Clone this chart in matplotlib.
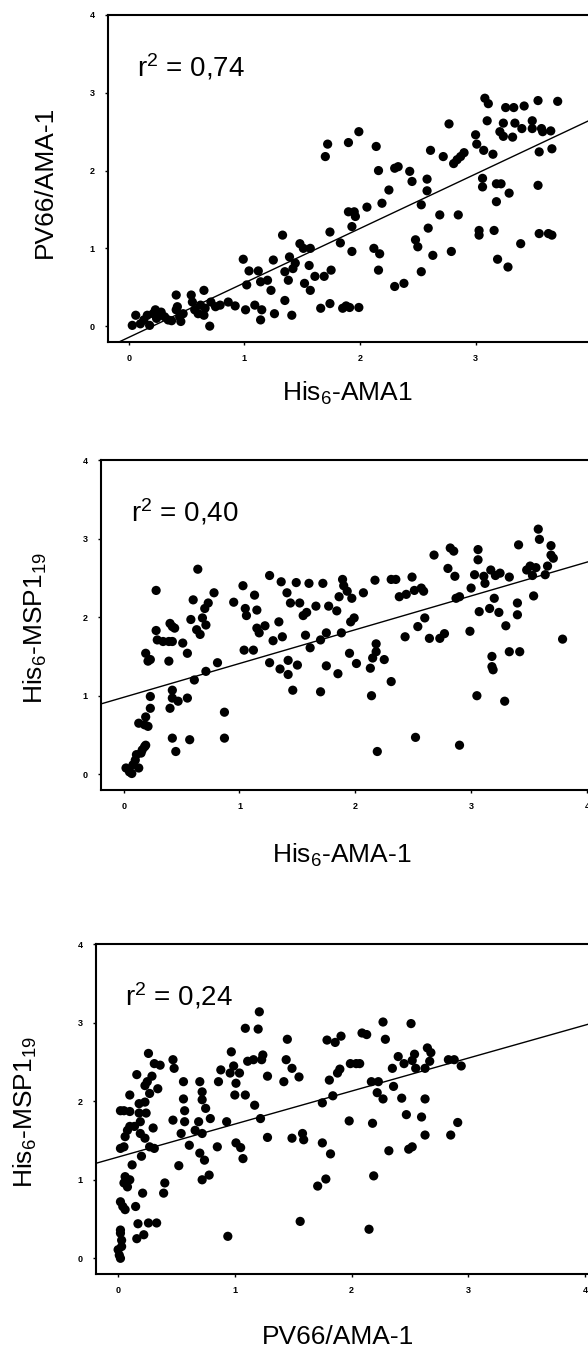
import numpy as np
import matplotlib
matplotlib.use("Agg")
import matplotlib.pyplot as plt

plt.rcParams['font.family'] = ['Liberation Sans', 'DejaVu Sans']
plt.rcParams['mathtext.fontset'] = 'custom'
plt.rcParams['mathtext.rm'] = 'Liberation Sans'
plt.rcParams['mathtext.it'] = 'Liberation Sans:italic'
plt.rcParams['mathtext.bf'] = 'Liberation Sans:bold'

# ---------------- data ----------------
# Panel 1: His6-AMA1 (x) vs PV66/AMA-1 (y)
p1_x = [0.03, 0.06, 0.10, 0.13, 0.16, 0.18, 0.21, 0.23, 0.24, 0.26, 0.28, 0.31, 0.34, 0.37,
        0.41, 0.41, 0.42, 0.44, 0.45, 0.47, 0.54, 0.55, 0.57, 0.60, 0.62, 0.65, 0.65, 0.66,
        0.70, 0.71, 0.75, 0.79, 0.86, 0.92, 1.01,
        0.99, 1.02, 1.04, 1.09, 1.12, 1.14, 1.14, 1.15, 1.20, 1.23, 1.25, 1.26, 1.33, 1.35,
        1.35, 1.38, 1.39, 1.41, 1.42, 1.44, 1.48, 1.51, 1.52, 1.56, 1.57, 1.57, 1.61, 1.66,
        1.69, 1.70, 1.72, 1.74, 1.74, 1.75, 1.83, 1.85, 1.88, 1.90, 1.90, 1.91, 1.93, 1.93,
        1.95, 1.96, 1.99, 1.99,
        2.06, 2.12, 2.14, 2.16, 2.16, 2.17, 2.19, 2.25, 2.30, 2.30, 2.33, 2.38, 2.43, 2.45,
        2.48, 2.50, 2.53, 2.53, 2.58, 2.58, 2.59, 2.61, 2.63, 2.69, 2.72, 2.77, 2.79, 2.81,
        2.84, 2.87, 2.90, 2.85, 3.00, 3.01, 3.03, 3.03, 3.06, 3.06, 3.07, 3.08, 3.10, 3.11,
        3.15, 3.16, 3.18, 3.18, 3.19, 3.21, 3.22, 3.24, 3.24, 3.26, 3.28, 3.29, 3.32, 3.33,
        3.34, 3.39, 3.40, 3.42, 3.49, 3.49, 3.54, 3.54, 3.55, 3.55, 3.57, 3.58, 3.63, 3.65,
        3.66, 3.66, 3.71]
p1_y = [0.01, 0.14, 0.03, 0.08, 0.14, 0.01, 0.16, 0.21, 0.10, 0.14, 0.18, 0.12, 0.08, 0.07,
        0.40, 0.21, 0.25, 0.12, 0.06, 0.16, 0.40, 0.31, 0.21, 0.16, 0.27, 0.46, 0.14, 0.23,
        0.00, 0.31, 0.25, 0.27, 0.31, 0.26, 0.21,
        0.86, 0.53, 0.71, 0.27, 0.71, 0.57, 0.08, 0.21, 0.59, 0.46, 0.85, 0.16, 1.17, 0.70,
        0.33, 0.59, 0.89, 0.14, 0.74, 0.81, 1.06, 1.00, 0.55, 0.78, 1.00, 0.46, 0.64, 0.23,
        0.64, 2.18, 2.34, 1.21, 0.29, 0.72, 1.07, 0.23, 0.26, 2.36, 1.47, 0.24, 1.28, 0.96,
        1.47, 1.41, 2.50, 0.24,
        1.53, 1.00, 2.31, 2.00, 0.72, 0.93, 1.58, 1.75, 2.03, 0.51, 2.05, 0.55, 1.99, 1.86,
        1.11, 1.02, 1.56, 0.70, 1.89, 1.74, 1.26, 2.26, 0.91, 1.43, 2.18, 2.60, 0.96, 2.09,
        2.14, 2.18, 2.23, 1.43, 2.46, 2.34, 1.23, 1.17, 1.90, 1.79, 2.26, 2.93, 2.64, 2.86,
        2.21, 1.23, 1.83, 1.60, 0.86, 2.50, 1.83, 2.61, 2.44, 2.81, 0.76, 1.71, 2.43, 2.81,
        2.61, 1.06, 2.54, 2.83, 2.64, 2.54, 2.90, 1.81, 2.24, 1.19, 2.54, 2.50, 1.19, 2.51,
        2.28, 1.17, 2.89]

# Panel 2: His6-AMA-1 (x) vs His6-MSP1_19 (y)
p2_x = [0.02, 0.05, 0.07, 0.08, 0.10, 0.11, 0.13, 0.15, 0.16, 0.18, 0.19, 0.13, 0.18, 0.19,
        0.21, 0.23, 0.23, 0.19, 0.21, 0.23, 0.28, 0.28, 0.29, 0.34, 0.39, 0.39, 0.40, 0.42,
        0.42, 0.44, 0.42, 0.40, 0.42, 0.42, 0.45, 0.47, 0.51, 0.55, 0.55, 0.57, 0.58, 0.60,
        0.61, 0.63, 0.64, 0.66, 0.68, 0.70, 0.71, 0.71, 0.73, 0.78, 0.81, 0.87, 0.87, 0.95,
        1.03, 1.05, 1.04, 1.06, 1.12, 1.13, 1.15, 1.15, 1.17, 1.22, 1.26, 1.26, 1.29, 1.34,
        1.35, 1.36, 1.37, 1.41, 1.42, 1.42, 1.44, 1.46, 1.49, 1.50, 1.52, 1.55, 1.57, 1.58,
        1.60, 1.61, 1.66, 1.70, 1.70, 1.72, 1.75, 1.75, 1.77, 1.84, 1.85, 1.86, 1.88, 1.89,
        1.90, 1.93, 1.95, 1.96, 1.97, 1.99, 2.01, 2.07, 2.13, 2.14, 2.15, 2.17, 2.18, 2.18,
        2.19, 2.25, 2.31, 2.31, 2.35, 2.38, 2.43, 2.44, 2.49, 2.51, 2.52, 2.54, 2.57, 2.59,
        2.60, 2.64, 2.68, 2.73, 2.77, 2.80, 2.82, 2.85, 2.86, 2.87, 2.90, 2.90, 2.99, 3.00,
        3.03, 3.05, 3.06, 3.06, 3.07, 3.11, 3.12, 3.16, 3.17, 3.18, 3.18, 3.19, 3.20, 3.21,
        3.24, 3.25, 3.29, 3.30, 3.33, 3.33, 3.40, 3.40, 3.41, 3.42, 3.48, 3.51, 3.53, 3.54,
        3.56, 3.58, 3.59, 3.64, 3.66, 3.69, 3.69, 3.71, 3.79]
p2_y = [0.08, 0.03, 0.01, 0.12, 0.18, 0.25, 0.08, 0.27, 0.31, 0.35, 0.37, 0.65, 0.63, 0.73,
        0.61, 0.84, 0.99, 1.54, 1.44, 1.46, 2.34, 1.83, 1.71, 1.69, 1.69, 1.44, 1.92, 1.88,
        1.69, 1.86, 1.07, 0.84, 0.97, 0.46, 0.29, 0.93, 1.67, 1.54, 0.97, 0.44, 1.97, 2.22,
        1.20, 1.84, 2.61, 1.78, 1.99, 2.11, 1.90, 1.31, 2.18, 2.31, 1.42, 0.79, 0.46, 2.19,
        2.40, 2.11, 1.58, 2.02, 1.58, 2.28, 2.09, 1.86, 1.80, 1.89, 2.53, 1.42, 1.70, 1.94,
        1.34, 2.45, 1.75, 2.31, 1.45, 1.27, 2.18, 1.07, 2.44, 1.39, 2.18, 2.02, 1.77, 2.06,
        2.43, 1.61, 2.14, 1.05, 1.71, 2.43, 1.80, 1.38, 2.14, 2.08, 1.28, 2.26, 1.80, 2.48,
        2.40, 2.33, 1.54, 1.94, 2.24, 1.99, 1.41, 2.31, 1.35, 1.00, 1.48, 2.47, 1.66, 1.56,
        0.29, 1.46, 1.18, 2.48, 2.48, 2.26, 1.75, 2.29, 2.51, 2.34, 0.47, 1.88, 2.37, 2.33,
        1.99, 1.73, 2.79, 1.73, 1.79, 2.62, 2.88, 2.84, 2.52, 2.24, 2.26, 0.37, 1.82, 2.37,
        2.54, 1.00, 2.86, 2.73, 2.07, 2.52, 2.43, 2.11, 2.60, 1.50, 1.37, 1.33, 2.24, 2.53,
        2.06, 2.56, 0.93, 1.89, 1.56, 2.51, 2.18, 2.03, 2.92, 1.56, 2.60, 2.65, 2.53, 2.27,
        2.63, 3.12, 2.99, 2.54, 2.65, 2.91, 2.79, 2.75, 1.72]

# Panel 3: PV66/AMA-1 (x) vs His6-MSP1_19 (y)
p3_x = [0.00, 0.01, 0.02, 0.02, 0.03, 0.02, 0.03, 0.02, 0.04, 0.06, 0.05, 0.06, 0.08, 0.10,
        0.02, 0.05, 0.10, 0.02, 0.05, 0.06, 0.08, 0.10, 0.10, 0.12, 0.14, 0.15, 0.16, 0.16,
        0.17, 0.18, 0.18, 0.19, 0.19, 0.20, 0.21, 0.22, 0.23, 0.23, 0.23, 0.24, 0.25, 0.26,
        0.26, 0.27, 0.27, 0.29, 0.30, 0.31, 0.31, 0.33, 0.34, 0.36, 0.39, 0.40, 0.47, 0.47,
        0.48, 0.52, 0.54, 0.56, 0.56, 0.57, 0.57, 0.61, 0.66, 0.69, 0.70, 0.70, 0.72, 0.72,
        0.72, 0.72, 0.74, 0.75, 0.78, 0.79, 0.85, 0.86, 0.88, 0.93, 0.94, 0.96, 0.97, 0.99,
        1.00, 1.01, 1.01, 1.04, 1.05, 1.07, 1.09, 1.09, 1.11, 1.16, 1.17, 1.20, 1.21, 1.22,
        1.23, 1.24, 1.28, 1.28, 1.42, 1.44, 1.45, 1.49, 1.49, 1.55, 1.56, 1.58, 1.59, 1.71,
        1.75, 1.75, 1.78, 1.79, 1.81, 1.82, 1.84, 1.86, 1.88, 1.90, 1.91, 1.98, 1.99, 2.04,
        2.07, 2.09, 2.13, 2.15, 2.17, 2.18, 2.19, 2.22, 2.23, 2.27, 2.27, 2.29, 2.32, 2.35,
        2.36, 2.40, 2.43, 2.45, 2.47, 2.49, 2.51, 2.52, 2.52, 2.54, 2.55, 2.60, 2.63, 2.63,
        2.63, 2.65, 2.68, 2.67, 2.83, 2.85, 2.88, 2.91, 2.94]
p3_y = [0.11, 0.04, 0.00, 0.32, 0.15, 0.36, 0.23, 0.72, 0.66, 0.62, 0.96, 1.04, 0.91, 1.00,
        1.88, 1.88, 1.87, 1.40, 1.42, 1.55, 1.63, 1.68, 2.08, 1.19, 1.68, 0.66, 2.34, 0.25,
        0.44, 1.85, 1.97, 1.74, 1.59, 1.30, 0.83, 0.30, 2.20, 1.99, 1.53, 1.85, 2.25, 0.45,
        2.61, 2.10, 1.42, 2.32, 1.66, 1.40, 2.48, 0.45, 2.16, 2.46, 0.83, 0.96, 1.76, 2.53,
        2.42, 1.18, 1.59, 2.25, 2.03, 1.88, 1.74, 1.44, 1.63, 1.74, 2.25, 1.34, 2.12, 2.02,
        1.00, 1.59, 1.25, 1.91, 1.06, 1.78, 1.42, 2.25, 2.40, 1.74, 0.28, 2.36, 2.63, 2.45,
        2.08, 2.23, 1.47, 2.36, 1.41, 1.27, 2.93, 2.08, 2.51, 2.53, 1.95, 2.92, 3.14, 1.78,
        2.53, 2.59, 2.32, 1.54, 2.25, 2.53, 2.79, 2.42, 1.53, 2.31, 0.47, 1.59, 1.51, 0.92,
        1.47, 1.98, 1.01, 2.78, 2.27, 1.33, 2.07, 2.75, 2.36, 2.41, 2.83, 1.75, 2.48, 2.48,
        2.48, 2.87, 2.85, 0.37, 2.25, 1.72, 1.05, 2.11, 2.25, 3.01, 2.03, 2.79, 1.37, 2.42,
        2.19, 2.57, 2.04, 2.48, 1.83, 1.39, 2.99, 2.52, 1.42, 2.60, 2.42, 1.80, 2.42, 2.03,
        1.57, 2.68, 2.62, 2.51, 2.53, 1.57, 2.53, 1.73, 2.45]

# regression lines (slope, intercept) and r^2 values as printed
fit_slope = [0.70, 0.43, 0.42]
fit_intercept = [-0.144, 0.98, 1.29]
r2_text = ['0,74', '0,40', '0,24']

x_labels = [r'His$\mathregular{_6}$-AMA1', r'His$\mathregular{_6}$-AMA-1', 'PV66/AMA-1']
y_labels = ['PV66/AMA-1', r'His$\mathregular{_6}$-MSP1$\mathregular{_{19}}$',
            r'His$\mathregular{_6}$-MSP1$\mathregular{_{19}}$']
tick_values = [0, 1, 2, 3, 4]
# x tick labels shown in each panel (panel 1's "4" falls outside the cropped picture)
x_tick_texts = [['0', '1', '2', '3', ''], ['0', '1', '2', '3', '4'], ['0', '1', '2', '3', '4']]

# ---------------- layout ----------------
W, H = 588, 1352
fig = plt.figure(figsize=(W / 100, H / 100), dpi=100)

# (left px, top px, bottom px, xmin, xmax, px per unit)
frames = [
    (108.0, 15.0, 341.7, -0.18, 4.2, 115.6),
    (101.0, 460.0, 790.0, -0.196, 4.2, 115.8),
    (95.6, 944.3, 1274.0, -0.193, 4.2, 116.7),
]
ylab_x = [-0.124, -0.128, -0.136]
ylab_y = [0.49, 0.49, 0.49]
xlab_y = [-0.157, -0.197, -0.191]

xs_all = [p1_x, p2_x, p3_x]
ys_all = [p1_y, p2_y, p3_y]

for i in range(3):
    left, top, bot, xmin, xmax, ppu = frames[i]
    width_px = (xmax - xmin) * ppu
    ax = fig.add_axes([left / W, 1 - bot / H, width_px / W, (bot - top) / H])
    ax.set_xlim(xmin, xmax)
    ax.set_ylim(-0.2, 4.0)
    ax.scatter(xs_all[i], ys_all[i], s=44, c='black', edgecolors='none', zorder=3)
    lx = np.array([xmin, xmax])
    ax.plot(lx, fit_slope[i] * lx + fit_intercept[i], color='black', lw=1.0, zorder=2)
    ax.set_xticks(tick_values)
    ax.set_yticks(tick_values)
    ax.set_xticklabels(x_tick_texts[i], fontsize=6.5, fontweight='bold')
    ax.set_yticklabels([str(t) for t in tick_values], fontsize=6.5, fontweight='bold')
    ax.tick_params(direction='out', length=2.5, width=1.0, pad=6)
    ax.tick_params(axis='y', pad=7)
    for sp in ax.spines.values():
        sp.set_linewidth(1.5)
    ax.set_xlabel(x_labels[i], fontsize=19)
    ax.set_ylabel(y_labels[i], fontsize=19)
    ax.xaxis.set_label_coords(0.473, xlab_y[i])
    ax.xaxis.label.set_va('center')
    ax.yaxis.set_label_coords(ylab_x[i], ylab_y[i])
    ax.yaxis.label.set_va('center')
    ax.text(0.058, 0.813, r'$\mathregular{r^2}$ = ' + r2_text[i], transform=ax.transAxes,
            fontsize=20, ha='left', va='baseline')

fig.savefig('out.png', dpi=100)
